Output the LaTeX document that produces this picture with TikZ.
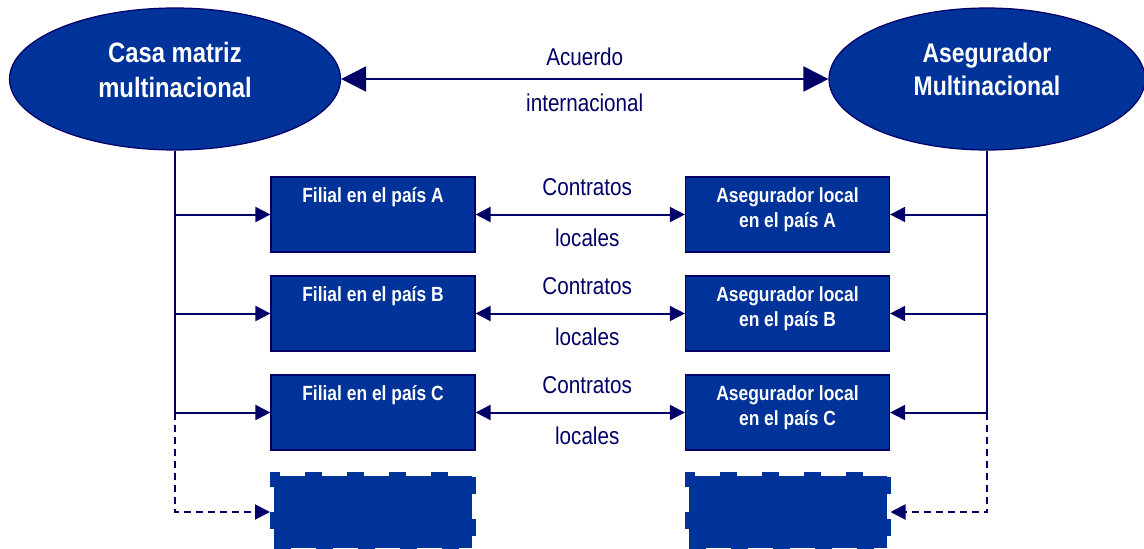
\documentclass[tikz,border=0pt]{standalone}
\usepackage{fontspec}
\setmainfont[FakeStretch=0.85]{Liberation Sans}
\usetikzlibrary{shapes.geometric,arrows.meta}
\definecolor{azul}{RGB}{0,51,153}
\definecolor{marino}{RGB}{0,0,102}
\tikzset{
  ovalo/.style={ellipse, fill=azul, draw=marino, line width=1.2pt, minimum height=142pt, inner sep=0pt},
  caja/.style={rectangle, fill=azul, draw=marino, line width=1.2pt, minimum width=204pt, minimum height=75pt, inner sep=0pt},
  cajavacia/.style={rectangle, fill=azul, draw=azul, line width=8pt, dash pattern=on 17pt off 25pt, minimum width=198pt, minimum height=72pt, inner sep=0pt},
  textoovalo/.style={text=white, font=\bfseries\fontsize{28}{35}\selectfont, align=center, inner sep=0pt},
  textocaja/.style={text=white, font=\bfseries\fontsize{20.5}{25}\selectfont, align=center, inner sep=0pt, anchor=north},
  etiqueta/.style={text=marino, font=\fontsize{24.3}{28}\selectfont, inner sep=0pt},
  linea/.style={draw=marino, line width=2pt},
  punteada/.style={dash pattern=on 7pt off 5pt},
  flechagrande/.style={linea, {Triangle[length=25pt, width=25pt]}-{Triangle[length=25pt, width=25pt]}},
  flechita/.style={linea, -{Triangle[length=15pt, width=15pt]}},
  flechadoble/.style={linea, {Triangle[length=15pt, width=15pt]}-{Triangle[length=15pt, width=15pt]}},
}
\begin{document}
\begin{tikzpicture}[x=1pt, y=-1pt]
        \useasboundingbox (0, 0) rectangle (1144, 549);

        \node[ovalo, minimum width=331pt] (casa) at (175, 79) {};
        \node[ovalo, minimum width=316pt] (aseg) at (987, 79) {};
        \node[textoovalo] (casatxt) at ([yshift=9pt] casa.center) {Casa matriz\\multinacional};
        \node[textoovalo, font=\bfseries\fontsize{27}{33}\selectfont] (asegtxt) at ([yshift=10pt] aseg.center) {Asegurador\\Multinacional};

        \draw[flechagrande] (casa) -- (aseg)
            node[etiqueta, midway, yshift=22pt] (acuerdo) {Acuerdo}
            node[etiqueta, midway, yshift=-24pt] (internac) {internacional};

        \node[caja] (filA) at (373, 214.5) {};
        \node[caja] (filB) at (373, 313.5) {};
        \node[caja] (filC) at (373, 412.5) {};
        \node[cajavacia] (filD) at (373, 512) {};
        \node[caja] (locA) at (787.5, 214.5) {};
        \node[caja] (locB) at (787.5, 313.5) {};
        \node[caja] (locC) at (787.5, 412.5) {};
        \node[cajavacia] (locD) at (787.5, 512) {};

        \node[textocaja] (filAtxt) at ([yshift=-11pt] filA.north) {Filial en el país A};
        \node[textocaja] (filBtxt) at ([yshift=-11pt] filB.north) {Filial en el país B};
        \node[textocaja] (filCtxt) at ([yshift=-11pt] filC.north) {Filial en el país C};
        \node[textocaja] (locAtxt) at ([yshift=-11pt] locA.north) {Asegurador local\\en el país A};
        \node[textocaja] (locBtxt) at ([yshift=-11pt] locB.north) {Asegurador local\\en el país B};
        \node[textocaja] (locCtxt) at ([yshift=-11pt] locC.north) {Asegurador local\\en el país C};

        \coordinate (izqA) at (175, 214.5);
        \coordinate (izqB) at (175, 313.5);
        \coordinate (izqC) at (175, 412.5);
        \coordinate (derA) at (987, 214.5);
        \coordinate (derB) at (987, 313.5);
        \coordinate (derC) at (987, 412.5);

        \draw[linea] (casa.south) -- (izqC);
        \draw[linea] (aseg.south) -- (derC);
        \draw[flechita] (izqA) -- (filA);
        \draw[flechita] (izqB) -- (filB);
        \draw[flechita] (izqC) -- (filC);
        \draw[flechita] (derA) -- (locA);
        \draw[flechita] (derB) -- (locB);
        \draw[flechita] (derC) -- (locC);
        \draw[flechita, punteada] (izqC) |- (filD);
        \draw[flechita, punteada] (derC) |- (locD);

        \draw[flechadoble] (filA) -- (locA)
            node[etiqueta, midway, xshift=7pt, yshift=27pt] (contA) {Contratos}
            node[etiqueta, midway, xshift=7pt, yshift=-23pt] (locsA) {locales};
        \draw[flechadoble] (filB) -- (locB)
            node[etiqueta, midway, xshift=7pt, yshift=27pt] (contB) {Contratos}
            node[etiqueta, midway, xshift=7pt, yshift=-23pt] (locsB) {locales};
        \draw[flechadoble] (filC) -- (locC)
            node[etiqueta, midway, xshift=7pt, yshift=27pt] (contC) {Contratos}
            node[etiqueta, midway, xshift=7pt, yshift=-23pt] (locsC) {locales};
    \end{tikzpicture}
\end{document}
